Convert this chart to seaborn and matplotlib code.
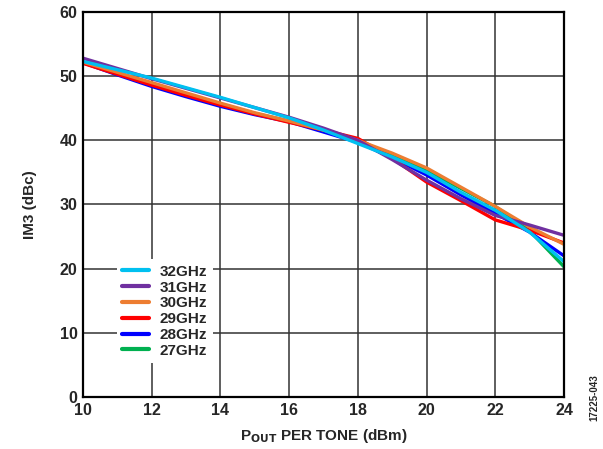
# IM3 vs output power per tone, 27-32 GHz
import pandas as pd
import matplotlib.pyplot as plt
import seaborn as sns

pout = [10, 11, 12, 13, 14, 15, 16, 17, 18, 19, 20, 21, 22, 23, 24]

im3_32 = [52.3, 51.0, 49.7, 48.2, 46.7, 45.1, 43.5, 41.6, 39.5, 37.4, 35.0, 31.9, 29.1, 25.7, 21.1]
im3_31 = [52.8, 51.2, 49.6, 48.1, 46.6, 45.1, 43.6, 41.9, 40.0, 37.0, 33.8, 30.9, 28.3, 26.8, 25.2]
im3_30 = [52.2, 50.6, 49.0, 47.4, 45.8, 44.3, 43.0, 41.6, 40.0, 38.0, 35.7, 32.7, 29.7, 26.5, 23.8]
im3_29 = [52.0, 50.3, 48.6, 47.0, 45.5, 44.1, 42.8, 41.6, 40.3, 37.2, 33.5, 30.6, 27.6, 26.0, 24.0]
im3_28 = [52.1, 50.2, 48.4, 46.8, 45.3, 44.0, 42.9, 41.3, 39.7, 37.3, 34.6, 31.5, 28.6, 25.7, 22.0]
im3_27 = [52.2, 50.5, 48.8, 47.2, 45.6, 44.2, 43.0, 41.5, 39.8, 37.8, 35.3, 32.5, 29.7, 25.9, 20.3]

freqs = ['32GHz', '31GHz', '30GHz', '29GHz', '28GHz', '27GHz']
colors = ['#00C0F0', '#7030A0', '#ED7D31', '#FF0000', '#0000FF', '#00B050']

series = [im3_32, im3_31, im3_30, im3_29, im3_28, im3_27]
rows = []
for f, vals in zip(freqs, series):
    for x, v in zip(pout, vals):
        rows.append({'Pout': x, 'IM3': v, 'Freq': f})
df = pd.DataFrame(rows)

sns.set_style('white')
plt.rcParams['font.family'] = ['Liberation Sans', 'DejaVu Sans']
plt.rcParams['font.weight'] = 'bold'

fig = plt.figure(figsize=(6.03, 4.49), dpi=100)
ax = fig.add_axes([0.1376, 0.1158, 0.7977, 0.8575])

sns.lineplot(data=df, x='Pout', y='IM3', hue='Freq', hue_order=freqs,
             palette=dict(zip(freqs, colors)), linewidth=2.4, ax=ax,
             legend=True)

# 32GHz on top, 27GHz at the bottom
for i, ln in enumerate(ax.lines[:len(freqs)]):
    ln.set_zorder(3 + len(freqs) - i)

ax.set_xlim(10, 24)
ax.set_ylim(0, 60)
ax.set_xticks(range(10, 25, 2))
ax.set_yticks(range(0, 61, 10))
ax.grid(True, color='#333333', linewidth=1.1)
ax.set_axisbelow(True)
for s in ax.spines.values():
    s.set_color('black')
    s.set_linewidth(1.6)
    s.set_zorder(20)
ax.tick_params(axis='both', labelsize=11.5, length=0, pad=4)
for lab in ax.get_xticklabels() + ax.get_yticklabels():
    lab.set_fontweight('bold')

ax.set_xlabel(r'P$_{\mathbf{OUT}}$ PER TONE (dBm)', fontsize=11, fontweight='bold', labelpad=7)
ax.set_ylabel('IM3 (dBc)', fontsize=11, fontweight='bold', labelpad=16)

leg = ax.legend(loc='lower left', bbox_to_anchor=(0.055, 0.068), frameon=True,
                fontsize=11, handlelength=1.75, handletextpad=0.7,
                labelspacing=0.12, borderpad=0.35)
leg.get_frame().set_facecolor('white')
leg.get_frame().set_edgecolor('none')
leg.get_frame().set_alpha(1)
leg.set_zorder(15)
for t in leg.get_texts():
    t.set_fontweight('bold')
for h in leg.legend_handles:
    h.set_linewidth(3)

fig.text(0.985, 0.115, '17225-043', rotation=90, fontsize=7, ha='center', va='center')

plt.savefig('out.png', dpi=100)
